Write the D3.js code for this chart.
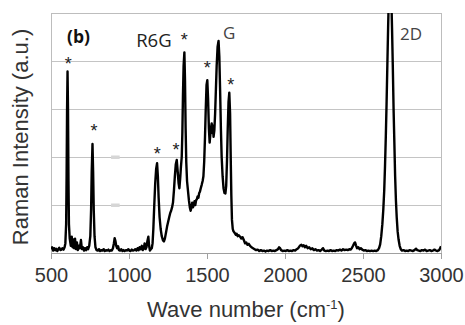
<!DOCTYPE html>
<html>
<head>
<meta charset="utf-8">
<script src="https://cdn.jsdelivr.net/npm/d3@7"></script>
<style>
  body { margin: 0; background: #fff; }
  text { font-family: "Liberation Sans", Arial, sans-serif; }
</style>
</head>
<body>
<div id="chart"></div>
<script>
// Raman spectrum: wave number (cm-1) and intensity (a.u.)
const waveNumbers = [
  500, 507, 514, 520, 527, 533, 540, 547, 553, 560, 567, 573, 580, 587, 592, 597, 600, 603, 606, 609,
  612, 615, 620, 627, 633, 638, 643, 648, 654, 660, 666, 672, 678, 685, 692, 698, 705, 712, 718, 725,
  732, 738, 745, 752, 757, 761, 766, 770, 774, 779, 785, 792, 800, 808, 815, 822, 830, 838, 845, 853,
  860, 868, 875, 883, 890, 897, 903, 908, 913, 918, 924, 930, 936, 943, 950, 958, 965, 972, 980, 988,
  995, 1003, 1010, 1018, 1025, 1033, 1040, 1048, 1055, 1062, 1068, 1075, 1082, 1088, 1095, 1100, 1106, 1112, 1118, 1124,
  1129, 1134, 1140, 1146, 1151, 1156, 1162, 1168, 1174, 1180, 1185, 1190, 1196, 1203, 1210, 1218, 1224, 1230, 1237, 1244,
  1251, 1258, 1264, 1270, 1276, 1282, 1288, 1294, 1300, 1306, 1312, 1318, 1323, 1328, 1333, 1338, 1342, 1346, 1350, 1355,
  1359, 1363, 1367, 1372, 1378, 1384, 1390, 1395, 1400, 1405, 1410, 1415, 1420, 1425, 1430, 1435, 1440, 1445, 1450, 1455,
  1460, 1466, 1472, 1477, 1482, 1487, 1492, 1497, 1502, 1507, 1512, 1517, 1521, 1525, 1530, 1534, 1538, 1542, 1547, 1552,
  1557, 1562, 1568, 1574, 1579, 1584, 1589, 1594, 1600, 1606, 1612, 1618, 1623, 1628, 1633, 1638, 1643, 1648, 1652, 1656,
  1660, 1665, 1670, 1679, 1685, 1690, 1697, 1704, 1712, 1720, 1728, 1736, 1744, 1752, 1760, 1768, 1776, 1785, 1795, 1805,
  1815, 1825, 1835, 1845, 1855, 1865, 1875, 1885, 1895, 1905, 1915, 1925, 1935, 1945, 1955, 1962, 1968, 1975, 1985, 1995,
  2005, 2015, 2025, 2035, 2045, 2055, 2065, 2075, 2085, 2095, 2105, 2112, 2120, 2128, 2136, 2145, 2155, 2165, 2175, 2185,
  2195, 2205, 2215, 2225, 2235, 2244, 2252, 2262, 2272, 2282, 2292, 2302, 2312, 2322, 2332, 2342, 2352, 2362, 2372, 2382,
  2392, 2402, 2412, 2420, 2428, 2436, 2443, 2449, 2455, 2462, 2470, 2478, 2486, 2495, 2505, 2515, 2525, 2535, 2545, 2555,
  2565, 2575, 2585, 2595, 2603, 2610, 2617, 2624, 2630, 2636, 2641, 2646, 2651, 2656, 2661, 2666, 2671, 2676, 2681, 2686,
  2691, 2696, 2701, 2706, 2711, 2716, 2722, 2728, 2735, 2742, 2750, 2760, 2770, 2780, 2790, 2800, 2810, 2820, 2830, 2840,
  2848, 2858, 2868, 2878, 2888, 2898, 2908, 2918, 2928, 2938, 2948, 2958, 2968, 2978, 2988, 2995, 3000
];
const intensities = [
  0.08, 0.12, 0.05, 0.10, 0.06, 0.09, 0.04, 0.08, 0.11, 0.06, 0.07, 0.10, 0.07, 0.12, 0.20, 0.60, 1.60, 3.00, 3.78, 3.00,
  1.50, 0.60, 0.30, 0.15, 0.34, 0.12, 0.28, 0.10, 0.30, 0.08, 0.22, 0.06, 0.15, 0.10, 0.27, 0.08, 0.12, 0.05, 0.10, 0.06,
  0.12, 0.08, 0.15, 0.35, 0.90, 1.70, 2.27, 1.70, 0.90, 0.35, 0.12, 0.06, 0.05, 0.08, 0.04, 0.06, 0.05, 0.08, 0.04, 0.06,
  0.05, 0.07, 0.04, 0.06, 0.05, 0.10, 0.20, 0.31, 0.25, 0.15, 0.10, 0.14, 0.06, 0.05, 0.08, 0.04, 0.06, 0.04, 0.06, 0.05,
  0.08, 0.05, 0.04, 0.07, 0.05, 0.06, 0.08, 0.05, 0.10, 0.06, 0.12, 0.08, 0.15, 0.06, 0.10, 0.20, 0.08, 0.12, 0.25, 0.34,
  0.15, 0.05, 0.08, 0.10, 0.20, 0.50, 1.00, 1.45, 1.75, 1.87, 1.60, 1.15, 0.75, 0.50, 0.35, 0.26, 0.24, 0.30, 0.42, 0.55,
  0.65, 0.75, 0.83, 0.88, 0.95, 1.05, 1.30, 1.60, 1.85, 1.94, 1.70, 1.45, 1.35, 1.55, 1.80, 2.00, 2.50, 3.30, 3.90, 4.18,
  3.60, 2.60, 1.90, 1.50, 1.30, 1.10, 0.95, 0.88, 0.95, 1.05, 0.95, 1.00, 1.08, 1.00, 1.10, 1.12, 1.18, 1.15, 1.25, 1.28,
  1.35, 1.42, 1.50, 1.60, 1.90, 2.40, 3.00, 3.50, 3.60, 3.20, 2.60, 2.30, 2.45, 2.60, 2.70, 2.50, 2.65, 2.42, 2.55, 2.90,
  3.40, 3.90, 4.30, 4.42, 4.10, 3.40, 2.60, 2.00, 1.60, 1.35, 1.25, 1.24, 1.40, 1.90, 2.60, 3.15, 3.34, 2.90, 2.00, 1.20,
  0.69, 0.50, 0.45, 0.41, 0.38, 0.40, 0.35, 0.37, 0.34, 0.30, 0.33, 0.27, 0.20, 0.22, 0.17, 0.19, 0.15, 0.12, 0.10, 0.08,
  0.06, 0.07, 0.04, 0.06, 0.04, 0.05, 0.03, 0.05, 0.04, 0.06, 0.04, 0.05, 0.04, 0.06, 0.08, 0.12, 0.10, 0.06, 0.04, 0.05,
  0.04, 0.06, 0.04, 0.05, 0.04, 0.06, 0.05, 0.08, 0.10, 0.15, 0.17, 0.14, 0.16, 0.12, 0.15, 0.10, 0.12, 0.08, 0.10, 0.06,
  0.08, 0.05, 0.06, 0.04, 0.07, 0.10, 0.05, 0.04, 0.05, 0.04, 0.06, 0.04, 0.05, 0.04, 0.06, 0.05, 0.07, 0.05, 0.08, 0.06,
  0.07, 0.06, 0.08, 0.07, 0.10, 0.15, 0.20, 0.22, 0.16, 0.10, 0.12, 0.08, 0.10, 0.07, 0.05, 0.06, 0.04, 0.05, 0.04, 0.05,
  0.04, 0.05, 0.04, 0.06, 0.10, 0.18, 0.35, 0.60, 0.90, 1.30, 1.80, 2.40, 3.10, 3.90, 4.70, 5.40, 5.80, 5.80, 5.40, 4.70,
  3.90, 3.00, 2.30, 1.60, 1.10, 0.75, 0.45, 0.28, 0.15, 0.08, 0.05, 0.06, 0.04, 0.05, 0.04, 0.06, 0.05, 0.04, 0.06, 0.09,
  0.06, 0.05, 0.04, 0.06, 0.05, 0.07, 0.04, 0.05, 0.06, 0.04, 0.05, 0.07, 0.05, 0.04, 0.06, 0.10, 0.14
];

// R6G peaks marked with an asterisk
const starWn = [611, 776, 1181, 1301, 1354, 1502, 1652];
const starI = [4.0, 2.6, 2.12, 2.21, 4.5, 3.92, 3.57];

// peak labels
const labelText = ["R6G", "G", "2D"];
const labelWn = [1046, 1603, 2737];
const labelI = [4.3, 4.45, 4.44];

const xTicks = [500, 1000, 1500, 2000, 2500, 3000];
const yGrid = [1, 2, 3, 4];

const width = 465, height = 325;
const margin = {top: 13, right: 24, bottom: 72, left: 51};
const w = width - margin.left - margin.right;
const h = height - margin.top - margin.bottom;

const x = d3.scaleLinear().domain([500, 3000]).range([0, w]);
const y = d3.scaleLinear().domain([0, 5]).range([h, 0]);

const svg = d3.select("#chart").append("svg")
    .attr("width", width)
    .attr("height", height);

const g = svg.append("g")
    .attr("transform", "translate(" + margin.left + "," + margin.top + ")");

g.append("clipPath").attr("id", "clip")
  .append("rect").attr("width", w).attr("height", h);

// gridlines
g.selectAll(".grid")
    .data(yGrid)
  .enter().append("line")
    .attr("x1", 0).attr("x2", w)
    .attr("y1", d => y(d) + 0.5).attr("y2", d => y(d) + 0.5)
    .attr("stroke", "#c4c4c4");

// small grey marks sitting on two gridlines
g.selectAll(".mark")
    .data([1, 2])
  .enter().append("rect")
    .attr("x", x(885)).attr("width", x(940) - x(885))
    .attr("y", d => y(d) - 1.5).attr("height", 3.5)
    .attr("fill", "#d6d6d6");

// frame
g.append("rect")
    .attr("x", 0.5).attr("y", 0.5)
    .attr("width", w).attr("height", h)
    .attr("fill", "none")
    .attr("stroke", "#bdbdbd");

// x axis
const xAxis = g.append("g")
    .attr("transform", "translate(0," + h + ")")
    .call(d3.axisBottom(x).tickValues(xTicks).tickSize(6).tickPadding(9).tickFormat(d3.format("d")));
xAxis.select(".domain").attr("stroke", "#a0a0a0");
xAxis.selectAll(".tick line").attr("stroke", "#a0a0a0");
xAxis.selectAll(".tick text")
    .attr("fill", "#333")
    .style("font-size", "20px")
    .style("font-family", "'Liberation Sans', Arial, sans-serif");

// spectrum
const pts = waveNumbers.map((d, i) => [d, intensities[i]]);
const line = d3.line()
    .x(d => x(d[0]))
    .y(d => y(d[1]));

g.append("path")
    .datum(pts)
    .attr("clip-path", "url(#clip)")
    .attr("fill", "none")
    .attr("stroke", "#000")
    .attr("stroke-width", 2.4)
    .attr("stroke-linejoin", "round")
    .attr("d", line);

// asterisks
g.selectAll(".star")
    .data(starWn)
  .enter().append("text")
    .attr("x", d => x(d))
    .attr("y", (d, i) => y(starI[i]) + 9)
    .attr("text-anchor", "middle")
    .style("font-size", "18px")
    .attr("fill", "#222")
    .text("*");

// labels
g.selectAll(".lbl")
    .data(labelText)
  .enter().append("text")
    .attr("x", (d, i) => x(labelWn[i]))
    .attr("y", (d, i) => y(labelI[i]))
    .style("font-family", "'Open Sans', sans-serif")
    .style("font-size", (d, i) => i === 0 ? "18.5px" : "17px")
    .attr("fill", (d, i) => i === 0 ? "#222" : "#444")
    .text(d => d);

g.append("text")
    .attr("x", 16).attr("y", 30)
    .style("font-family", "'Open Sans', sans-serif")
    .style("font-size", "17.5px")
    .style("font-weight", "bold")
    .attr("fill", "#111")
    .text("(b)");

// axis titles
svg.append("text")
    .attr("transform", "translate(28," + (margin.top + h / 2 + 4) + ") rotate(-90)")
    .attr("text-anchor", "middle")
    .style("font-size", "22px")
    .attr("fill", "#333")
    .text("Raman Intensity (a.u.)");

const xt = svg.append("text")
    .attr("x", margin.left + w / 2)
    .attr("y", 317)
    .attr("text-anchor", "middle")
    .style("font-size", "22px")
    .attr("fill", "#333");
xt.append("tspan").text("Wave number (cm");
xt.append("tspan").attr("dy", -8).style("font-size", "13px").text("-1");
xt.append("tspan").attr("dy", 8).text(")");
</script>
</body>
</html>
